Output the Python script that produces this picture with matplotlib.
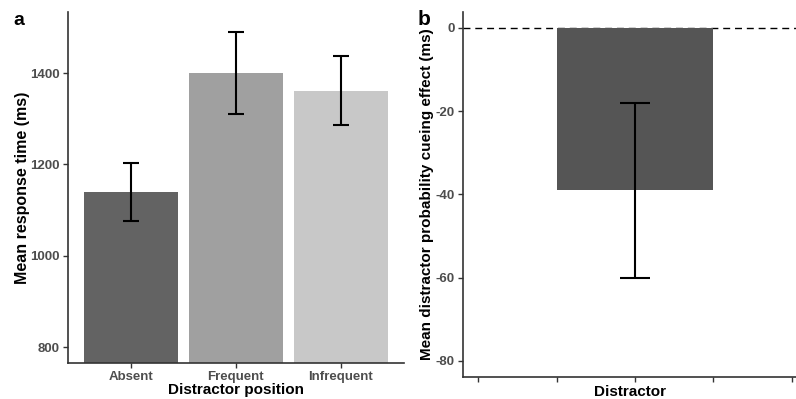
import matplotlib.pyplot as plt

plt.rcParams['font.family'] = ['Liberation Sans', 'DejaVu Sans']
plt.rcParams['axes.unicode_minus'] = False

# panel a
positions = ['Absent', 'Frequent', 'Infrequent']
mean_rt = [1140, 1400, 1362]
rt_low = [1077, 1311, 1286]
rt_high = [1204, 1490, 1438]
bar_colors = ['#636363', '#a0a0a0', '#c8c8c8']

# panel b
effect_label = ['Distractor']
effect = [-39]
effect_low = [-60]
effect_high = [-18]
effect_ticks = [0.5, 0.75, 1.0, 1.25, 1.5]

fig = plt.figure(figsize=(7.96, 3.99), dpi=100)
ax1 = fig.add_axes([0.0854, 0.091, 0.422, 0.879])
ax2 = fig.add_axes([0.5817, 0.056, 0.4183, 0.914])

tick_color = '#4d4d4d'


def style(ax):
    for s in ['top', 'right']:
        ax.spines[s].set_visible(False)
    for s in ['left', 'bottom']:
        ax.spines[s].set_linewidth(1.2)
        ax.spines[s].set_color('#333333')
    ax.tick_params(axis='both', length=3.5, width=1.0, color='#333333',
                   labelcolor=tick_color, labelsize=9.5, pad=2.5)
    for lab in ax.get_xticklabels() + ax.get_yticklabels():
        lab.set_fontweight('bold')


# a
x = list(range(len(positions)))
ax1.bar(x, mean_rt, width=0.9, color=bar_colors, zorder=2)
err = [[m - l for m, l in zip(mean_rt, rt_low)], [h - m for m, h in zip(mean_rt, rt_high)]]
ax1.errorbar(x, mean_rt, yerr=err, fmt='none', ecolor='black', elinewidth=1.5,
             capsize=6, capthick=1.5, zorder=3)
ax1.set_xlim(-0.6, 2.6)
ax1.set_ylim(766, 1534)
ax1.set_yticks([800, 1000, 1200, 1400])
ax1.set_xticks(x)
ax1.set_xticklabels(positions)
style(ax1)
ax1.set_xlabel('Distractor position', fontsize=11, fontweight='bold', labelpad=0)
ax1.set_ylabel('Mean response time (ms)', fontsize=11.5, fontweight='bold', labelpad=0)
fig.text(0.017, 0.937, 'a', fontsize=14, fontweight='bold')

# b
ax2.bar([1.0], effect, width=0.5, color='#555555', zorder=2)
ax2.errorbar([1.0], effect, yerr=[[effect[0] - effect_low[0]], [effect_high[0] - effect[0]]],
             fmt='none', ecolor='black', elinewidth=1.5, capsize=11, capthick=1.5, zorder=3)
ax2.axhline(0, color='black', linestyle=(0, (5, 3.5)), linewidth=1.0, zorder=1)
ax2.set_xlim(0.452, 1.513)
ax2.set_ylim(-83.8, 3.8)
ax2.set_yticks([0, -20, -40, -60, -80])
ax2.set_xticks(effect_ticks)
ax2.set_xticklabels([''] * len(effect_ticks))
style(ax2)
ax2.set_xlabel(effect_label[0], fontsize=11, fontweight='bold', labelpad=0)
ax2.set_ylabel('Mean distractor probability cueing effect (ms)', fontsize=11,
               fontweight='bold', labelpad=1)
fig.text(0.524, 0.937, 'b', fontsize=15, fontweight='bold')

fig.savefig('out.png', dpi=100)
